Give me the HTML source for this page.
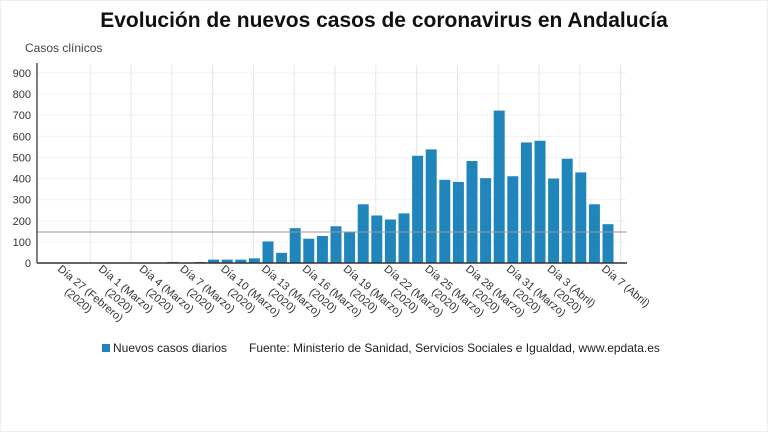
<!DOCTYPE html>
<html><head><meta charset="utf-8"><style>
body{margin:0;background:#fff;}
svg{display:block;font-family:"Liberation Sans",sans-serif;}
</style></head><body>
<svg id="chart" width="768" height="432" viewBox="0 0 768 432" xmlns="http://www.w3.org/2000/svg">
<rect x="0.5" y="0.5" width="767" height="431" fill="#fff" stroke="#eee"/>
<text x="384" y="27" text-anchor="middle" font-size="21" font-weight="bold" fill="#111">Evolución de nuevos casos de coronavirus en Andalucía</text>
<text x="25" y="52" font-size="12" fill="#444">Casos clínicos</text>
<g id="grid"></g>
<g id="bars"></g>
<g id="axes"></g>
<rect x="102" y="344" width="8" height="8" fill="#1f85bb"/>
<text x="113" y="352" font-size="12" fill="#222">Nuevos casos diarios</text>
<text x="249" y="352" font-size="12" fill="#222">Fuente: Ministerio de Sanidad, Servicios Sociales e Igualdad, www.epdata.es</text>
</svg>
<script>
const values=[1,1,1,0,0,0,0,0,5,2,5,16,16,16,22,102,48,165,115,128,174,146,278,225,206,235,508,538,394,384,483,402,722,411,571,579,400,494,429,278,184];
const refLine=[147];
const yTicks=[0,100,200,300,400,500,600,700,800,900];
const labelIdx=[0,3,6,9,12,15,18,21,24,27,30,33,36,40];
const labelLine1=["Día 27 (Febrero)","Día 1 (Marzo)","Día 4 (Marzo)","Día 7 (Marzo)","Día 10 (Marzo)","Día 13 (Marzo)","Día 16 (Marzo)","Día 19 (Marzo)","Día 22 (Marzo)","Día 25 (Marzo)","Día 28 (Marzo)","Día 31 (Marzo)","Día 3 (Abril)","Día 7 (Abril)"];
const labelLine2=["(2020)","(2020)","(2020)","(2020)","(2020)","(2020)","(2020)","(2020)","(2020)","(2020)","(2020)","(2020)","(2020)",""];
const NS="http://www.w3.org/2000/svg";
const x0=37,x1=627,y0=263,yTop=73,yMax=900;
const step=13.6,first=64,bw=11;
const X=i=>first+i*step;
const Y=v=>y0-(v/yMax)*(y0-yTop);
function mk(tag,attrs,parent){const e=document.createElementNS(NS,tag);for(const k in attrs)e.setAttribute(k,attrs[k]);parent.appendChild(e);return e;}
const grid=document.getElementById('grid'),bars=document.getElementById('bars'),axes=document.getElementById('axes');
yTicks.forEach(t=>{
  const l=mk('line',{x1:x0,x2:x1,y1:Y(t),y2:Y(t),stroke:'#e6e6e6','stroke-dasharray':'1,1'},grid);
  
  
  const tx=mk('text',{x:x0-6,y:Y(t)+4,'text-anchor':'end','font-size':11,fill:'#333'},axes);
  tx.textContent=t;
  
  
});
for(let i=2;i<=41;i+=3){
  const gx=Math.min(X(i)-1,x1-2);
  const l=mk('line',{x1:gx,x2:gx,y1:yTop-8,y2:y0,stroke:'#e6e6e6'},grid);
  
  
}
values.forEach((v,i)=>{
  const r=mk('rect',{x:X(i)-bw/2,y:Y(v),width:bw,height:y0-Y(v),fill:'#1f85bb'},bars);
  
  
});
const rl=mk('line',{x1:x0,x2:x1,y1:Y(refLine[0]),y2:Y(refLine[0]),stroke:'#999','stroke-width':1},axes);


const ya=mk('line',{x1:x0,x2:x0,y1:yTop-10,y2:y0,stroke:'#555','stroke-width':1.5},axes);


const xa=mk('line',{x1:x0,x2:x1,y1:y0,y2:y0,stroke:'#333','stroke-width':1.5},axes);


labelIdx.forEach((idx,k)=>{
  const lx=X(idx)-7,ly=270;
  const t=mk('text',{transform:`translate(${lx},${ly}) rotate(40)`,'font-size':11,fill:'#333'},axes);
  
  
  const s1=mk('tspan',{x:0,y:0},t);s1.textContent=labelLine1[k];
  if(labelLine2[k]){const s2=mk('tspan',{x:20,y:13},t);s2.textContent=labelLine2[k];}
});
</script>
</body></html>
